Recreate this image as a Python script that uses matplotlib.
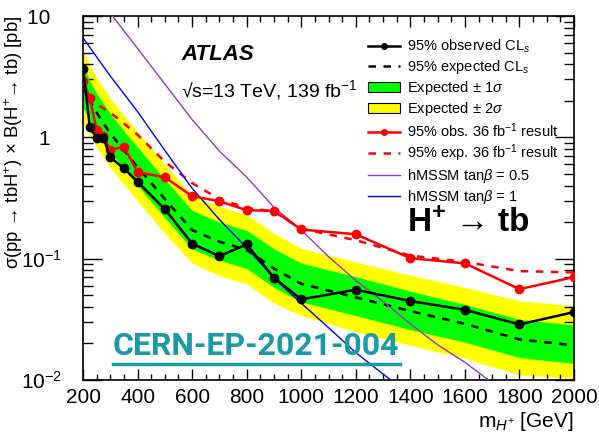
import numpy as np
import matplotlib
matplotlib.use("Agg")
import matplotlib.pyplot as plt
from matplotlib.lines import Line2D
from matplotlib.patches import Patch
from matplotlib.ticker import FixedLocator, FixedFormatter, MultipleLocator, LogLocator, NullFormatter

plt.rcParams['font.family'] = ['Liberation Sans', 'DejaVu Sans']
plt.rcParams['mathtext.fontset'] = 'custom'
plt.rcParams['mathtext.rm'] = 'Liberation Sans'
plt.rcParams['mathtext.it'] = 'Liberation Sans:italic'
plt.rcParams['mathtext.bf'] = 'Liberation Sans:bold'

# masses [GeV]
mass = [200, 225, 250, 275, 300, 350, 400, 500, 600, 700, 800, 900,
        1000, 1200, 1400, 1600, 1800, 2000]
observed = [3.66, 1.22, 0.98, 0.99, 0.684, 0.555, 0.43, 0.256, 0.133, 0.105,
            0.131, 0.0696, 0.0462, 0.0555, 0.0447, 0.0379, 0.0287, 0.0363]
expected = [2.7, 2.0, 1.6, 1.3, 1.08, 0.78, 0.57, 0.31, 0.172, 0.138,
            0.118, 0.083, 0.062, 0.048, 0.037, 0.029, 0.0216, 0.0193]
plus2 = [5.3, 3.9, 3.1, 2.55, 2.1, 1.52, 1.11, 0.60, 0.33, 0.27,
         0.23, 0.162, 0.122, 0.094, 0.073, 0.058, 0.045, 0.041]
plus1 = [4.0, 2.9, 2.3, 1.9, 1.57, 1.13, 0.83, 0.45, 0.25, 0.20,
         0.171, 0.121, 0.092, 0.071, 0.054, 0.042, 0.0316, 0.0284]
minus1 = [1.75, 1.4, 1.12, 0.91, 0.76, 0.55, 0.40, 0.217, 0.12, 0.097,
          0.083, 0.058, 0.044, 0.034, 0.026, 0.0205, 0.0153, 0.0137]
minus2 = [1.3, 1.04, 0.83, 0.68, 0.56, 0.41, 0.30, 0.161, 0.092, 0.072,
          0.062, 0.043, 0.034, 0.025, 0.0193, 0.0151, 0.011, 0.0103]

obs36 = [2.93, 2.1, 1.15, 1.03, 0.785, 0.837, 0.518, 0.468, 0.328, 0.297,
         0.251, 0.248, 0.174, 0.159, 0.101, 0.0915, 0.0561, 0.0705]
exp36 = [2.9, 2.2, 1.9, 1.73, 1.6, 1.3, 1.05, 0.63, 0.42, 0.31,
         0.262, 0.245, 0.177, 0.142, 0.106, 0.094, 0.079, 0.077]

hm_mass = [200, 300, 400, 500, 600, 700, 800, 900, 1000, 1100, 1200,
           1300, 1400, 1500, 1600, 1700]
hm_tb05 = [20.0, 10.6, 5.4, 2.75, 1.4, 0.77, 0.47, 0.265, 0.172, 0.104, 0.066,
           0.0445, 0.029, 0.0195, 0.014, 0.0095]
hm_tb1 = [6.6, 3.2, 1.63, 0.78, 0.38, 0.21, 0.123, 0.069, 0.043, 0.027, 0.0168,
          0.0112, 0.0075, 0.005, 0.0034, 0.0023]

y_ticks = [0.01, 0.1, 1, 10]
y_ticklabels = ['$10^{-2}$', '$10^{-1}$', '1  ', '10  ']


def main():
    fig = plt.figure(figsize=(5.99, 4.33), dpi=100)
    ax = fig.add_axes([0.1386, 0.1224, 0.8197, 0.8406])

    ax.fill_between(mass, minus2, plus2, color='#ffff00', lw=0, zorder=1)
    ax.fill_between(mass, minus1, plus1, color='#00ff00', lw=0, zorder=2)
    ax.plot(mass, expected, color='black', ls=(0, (3, 3)), lw=1.8, zorder=3)
    ax.plot(mass, exp36, color='red', ls=(0, (3, 3)), lw=1.8, zorder=3)
    ax.plot(hm_mass, hm_tb05, color='#9933cc', lw=1.0, zorder=4)
    ax.plot(hm_mass, hm_tb1, color='#0000ff', lw=1.0, zorder=4)
    ax.plot(mass, obs36, color='red', lw=1.8, marker='o', ms=6, zorder=5)
    ax.plot(mass, observed, color='black', lw=1.8, marker='o', ms=6, zorder=6)

    ax.set_yscale('log')
    ax.set_xlim(200, 2000)
    ax.set_ylim(0.01, 10)

    ax.xaxis.set_major_locator(MultipleLocator(200))
    ax.xaxis.set_minor_locator(MultipleLocator(50))
    ax.yaxis.set_major_locator(FixedLocator(y_ticks))
    ax.yaxis.set_major_formatter(FixedFormatter(y_ticklabels))
    ax.yaxis.set_minor_locator(LogLocator(base=10, subs=np.arange(2, 10)))
    ax.yaxis.set_minor_formatter(NullFormatter())
    ax.tick_params(which='both', direction='in', top=True, right=True,
                   labelsize=15, width=1.0)
    ax.tick_params(axis='x', which='major', length=8, pad=6)
    ax.tick_params(axis='x', which='minor', length=4)
    ax.tick_params(axis='y', which='major', length=14, pad=15)
    ax.tick_params(axis='y', which='minor', length=7)
    for s in ax.spines.values():
        s.set_linewidth(1.2)

    ax.set_ylabel('σ(pp → tbH$^{+}$) × B(H$^{+}$→ tb) [pb]', fontsize=13.3, loc='top')
    ax.yaxis.set_label_coords(-0.118, 1.0)
    ax.set_xlabel(r'm$_{H^{+}}$ [GeV]', fontsize=15, loc='right', labelpad=2)

    ax.text(0.2, 0.893, 'ATLAS', transform=ax.transAxes, fontsize=16,
            fontweight='bold', style='italic', va='center')
    ax.text(0.2, 0.797, '√s=13 TeV, 139 fb$^{-1}$', transform=ax.transAxes,
            fontsize=14, va='center')
    ax.text(0.66, 0.4286, 'H$^{\\mathbf{+}}$ → tb', transform=ax.transAxes,
            fontsize=24, fontweight='bold', va='center')

    cern = fig.text(113 / 599, 1 - 346 / 433, 'CERN-EP-2021-004', color='#1a9aa3',
                    fontsize=23, fontweight='bold', family='Roboto', va='center')

    handles = [
        Line2D([], [], color='black', lw=1.8, marker='o', ms=4),
        Line2D([], [], color='black', lw=1.8, ls=(0, (3, 3))),
        Patch(facecolor='#00ff00', edgecolor='black', lw=0.8),
        Patch(facecolor='#ffff00', edgecolor='black', lw=0.8),
        Line2D([], [], color='red', lw=1.8, marker='o', ms=4),
        Line2D([], [], color='red', lw=1.8, ls=(0, (3, 3))),
        Line2D([], [], color='#9933cc', lw=1.0),
        Line2D([], [], color='#0000ff', lw=1.0),
    ]
    labels = [
        r'95% observed CL$_{s}$',
        r'95% expected CL$_{s}$',
        r'Expected $\pm$ 1$\sigma$',
        r'Expected $\pm$ 2$\sigma$',
        r'95% obs. 36 fb$^{-1}$ result',
        r'95% exp. 36 fb$^{-1}$ result',
        r'hMSSM tan$\beta$ = 0.5',
        r'hMSSM tan$\beta$ = 1',
    ]
    fig.legend(handles, labels, loc='upper left', bbox_to_anchor=(368 / 599, 1 - 38 / 433),
               frameon=False, fontsize=10.5, handlelength=2.2, handletextpad=0.5,
               labelspacing=0.2, borderpad=0, borderaxespad=0)

    fig.canvas.draw()
    bb = cern.get_window_extent()
    inv = fig.transFigure.inverted()
    (x0, y0), (x1, y1) = inv.transform([(bb.x0, bb.y0 - 3), (bb.x1, bb.y0 - 3)])
    fig.add_artist(Line2D([x0, x1], [y0, y1], transform=fig.transFigure,
                          color='#1a9aa3', lw=2.5))

    fig.savefig('out.png', dpi=100)


if __name__ == "__main__":
    main()
